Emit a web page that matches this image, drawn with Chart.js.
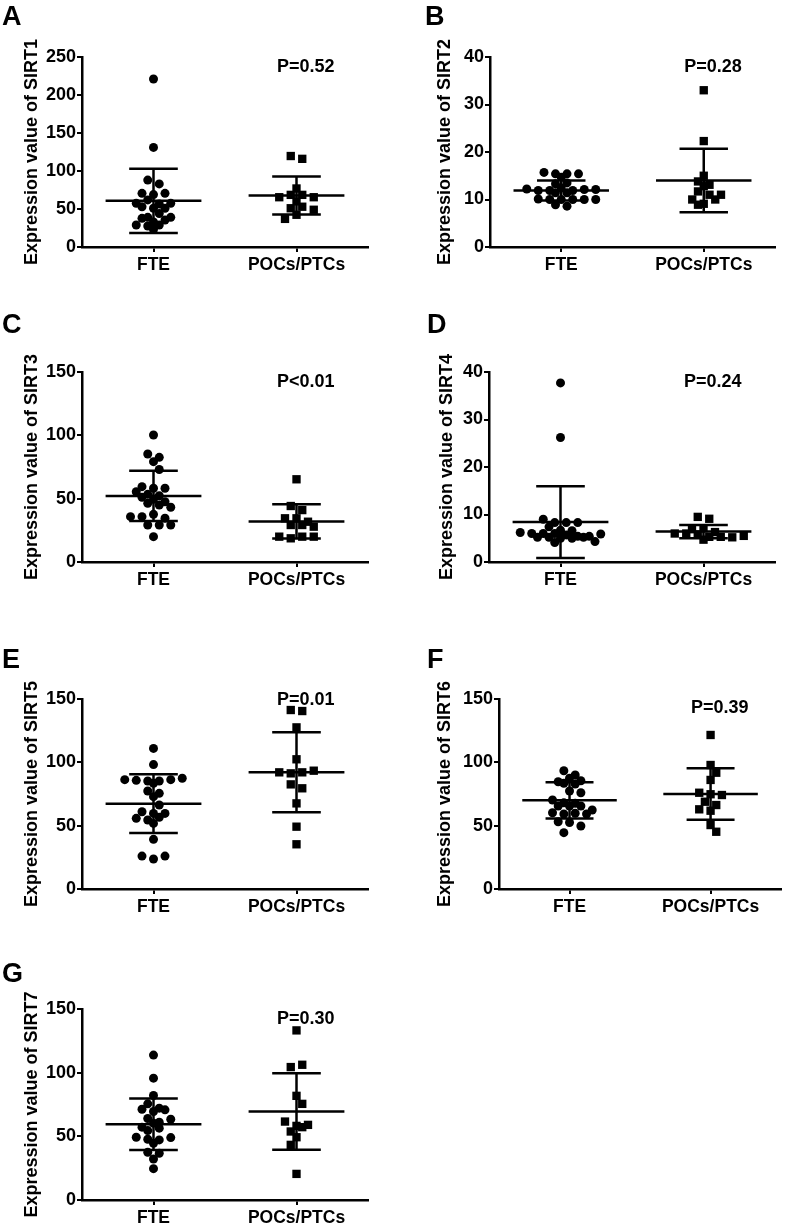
<!DOCTYPE html>
<html>
<head>
<meta charset="utf-8">
<script src="https://cdn.jsdelivr.net/npm/chart.js@4/dist/chart.umd.min.js"></script>
<style>
  body { margin: 0; background: #fff; }
  #wrap { position: relative; width: 787px; height: 1225px; }
  canvas { position: absolute; }
</style>
</head>
<body>
<div id="wrap"></div>
<script>
// groups on the x axis
const groups = ['FTE', 'POCs/PTCs'];

// values
const sirt1FTE = [221, 131, 88, 83, 70.6, 69, 70.6, 57.5, 53, 51, 62, 51, 56.6, 57.5, 37.7, 33, 29, 39, 44, 39, 27.6, 29, 35.5, 23];
const sirt1POC = [119.7, 116, 77, 65.5, 60, 68.6, 68.6, 65.5, 51, 53, 37, 42.4, 49];
const sirt2FTE = [15.7, 15.4, 14.7, 15.4, 15.4, 13.3, 13.5, 12.2, 11.9, 11.9, 12.4, 11.9, 12.1, 12.1, 11.4, 11.4, 10.1, 10, 10, 10, 10, 10, 8.9, 8.6];
const sirt2POC = [33, 22.3, 13.8, 12.8, 15, 13.1, 11.7, 11, 10, 8.9, 9.1, 10, 11];
const sirt3FTE = [100.3, 85.3, 82.6, 79.2, 73, 59.5, 58.2, 55.5, 58.2, 53.4, 52.3, 51.1, 49.5, 47.6, 46.3, 45, 43.2, 35.8, 35.8, 37.6, 34.5, 29.2, 29.2, 29.2, 20];
const sirt3POC = [65.3, 44.2, 41, 34.5, 34.5, 31.8, 29.2, 29.2, 27.9, 20, 18.7, 20, 20];
const sirt4FTE = [37.7, 26.2, 9.0, 8.3, 8.3, 8.3, 7.4, 6.7, 6.6, 6.2, 6.0, 6.0, 6.0, 5.7, 5.4, 5.2, 5.2, 5.0, 5.0, 5.4, 5.2, 4.3, 4.1, 5.9];
const sirt4POC = [9.5, 9.1, 6.0, 6.9, 7.1, 6.0, 5.8, 5.3, 5.3, 4.7, 5.2, 6.3, 5.5];
const sirt5FTE = [111, 98.2, 86.3, 85.8, 85.3, 83.4, 85.3, 86.3, 87.4, 77.4, 72.9, 75.5, 66.3, 61, 59.7, 55.8, 51.8, 54.5, 56.6, 59.7, 39.2, 26, 23.7, 26];
const sirt5POC = [141.3, 140.5, 127.6, 102.4, 92.1, 91.3, 92.1, 93.4, 82.6, 79.5, 67.6, 49.2, 35.3];
const sirt6FTE = [93.4, 84.7, 83.4, 87.4, 90, 82.9, 85.5, 77.4, 76, 70.3, 68, 67.7, 65.5, 65.5, 65.5, 62.4, 60.2, 59.2, 59.8, 59.2, 53.1, 52.5, 49.7, 44.5];
const sirt6POC = [121.6, 97.9, 91.8, 86.1, 76, 74.8, 74.2, 68.9, 62.9, 66.3, 61.8, 50.5, 45.2];
const sirt7FTE = [113.8, 95.7, 82.1, 75.5, 71.3, 69.5, 70.8, 72.1, 64, 57.2, 61.1, 63.4, 54.5, 49.3, 47.7, 47.2, 44.6, 49, 37.5, 36.7, 32.2, 24.6, 60.3, 56.4];
const sirt7POC = [133.2, 104.4, 106.2, 81.8, 75.5, 61.6, 58.2, 53.8, 57.2, 59, 49.3, 43.3, 20.5];

// mean and SD bars as drawn (FTE, POCs/PTCs)
const means = [[60.7, 67.7], [11.9, 14.0], [52.2, 32.0], [8.4, 6.4], [67.4, 92.1], [70.0, 75.0], [59.5, 69.5]];
const sds = [[42.2, 25.1], [2.1, 6.7], [19.8, 13.5], [7.55, 1.4], [23.2, 31.6], [14.3, 20.4], [20.3, 30.1]];

// tick labels
const ticks250 = [0, 50, 100, 150, 200, 250];
const ticks40 = [0, 10, 20, 30, 40];
const ticks150 = [0, 50, 100, 150];

const yTitles = ['Expression value of SIRT1', 'Expression value of SIRT2', 'Expression value of SIRT3',
  'Expression value of SIRT4', 'Expression value of SIRT5', 'Expression value of SIRT6', 'Expression value of SIRT7'];
const letters = ['A', 'B', 'C', 'D', 'E', 'F', 'G'];
const pValues = ['P=0.52', 'P=0.28', 'P<0.01', 'P=0.24', 'P=0.01', 'P=0.39', 'P=0.30'];

const FONT = "'Liberation Sans', Arial, sans-serif";
Chart.defaults.font.family = FONT;
Chart.defaults.color = '#000';

// canvas box, plot area inside it, and text placement
const panels = [
  { fte: sirt1FTE, poc: sirt1POC, ticks: ticks250, box: [0, 0, 390, 295], area: [82, 57, 368, 247], titlePad: 21, letter: [2, 25], pOff: 10 },
  { fte: sirt2FTE, poc: sirt2POC, ticks: ticks40, box: [390, 0, 397, 295], area: [100, 57, 385, 247], titlePad: 44, letter: [35, 25], pOff: 10 },
  { fte: sirt3FTE, poc: sirt3POC, ticks: ticks150, box: [0, 300, 390, 300], area: [82, 72, 368, 262], titlePad: 21, letter: [2, 33], pOff: 10 },
  { fte: sirt4FTE, poc: sirt4POC, ticks: ticks40, box: [390, 300, 397, 300], area: [99, 72, 385, 262], titlePad: 46, letter: [37, 33], pOff: 10 },
  { fte: sirt5FTE, poc: sirt5POC, ticks: ticks150, box: [0, 600, 390, 325], area: [82, 99, 368, 289], titlePad: 21, letter: [2, 68], pOff: 1 },
  { fte: sirt6FTE, poc: sirt6POC, ticks: ticks150, box: [390, 600, 397, 325], area: [109, 99, 395, 289], titlePad: 44, letter: [37, 68], pOff: 9 },
  { fte: sirt7FTE, poc: sirt7POC, ticks: ticks150, box: [0, 910, 390, 315], area: [82, 99, 368, 290], titlePad: 21, letter: [2, 72], pOff: 10 }
];

const ROW = 4.5;  // dots closer than this (px, vertically) share a row
const DOT = 9;    // dot size, px
const GAP = 11.5; // horizontal spacing of dots in a row, px

// column scatter like Prism: group close values into rows, centre each row,
// and shift a row by half a step when it would sit on top of the row above
function columnScatter(values, center, yMax, plotW, plotH) {
  const ky = plotH / yMax, kx = plotW / 2;
  const idx = values.map((v, i) => i).sort((a, b) => values[b] - values[a]);
  const rows = [];
  idx.forEach(i => {
    const row = rows[rows.length - 1];
    if (row && (values[row[0]] - values[i]) * ky < ROW) row.push(i);
    else rows.push([i]);
  });
  const pts = [];
  let prev = null, prevShift = 0, flip = 1;
  rows.forEach(row => {
    let shift = 0;
    if (prev) {
      const gapPx = (values[prev[prev.length - 1]] - values[row[0]]) * ky;
      const prevOdd = (prev.length % 2 === 1) === (prevShift === 0);
      const thisOdd = row.length % 2 === 1;
      if (gapPx < DOT && prevOdd === thisOdd) {
        shift = flip * GAP / 2;
        flip = -flip;
      }
    }
    row.sort((a, b) => a - b).forEach((i, j) => {
      const off = (j - (row.length - 1) / 2) * GAP + shift;
      pts.push({ x: center + off / kx, y: values[i] });
    });
    prev = row;
    prevShift = shift;
  });
  return pts;
}

function seg(x1, y1, x2, y2) {
  return {
    type: 'line',
    data: [{ x: x1, y: y1 }, { x: x2, y: y2 }],
    borderColor: '#000',
    borderWidth: 2.5,
    pointRadius: 0,
    fill: false
  };
}

const panelText = {
  id: 'panelText',
  afterDraw(chart, args, opts) {
    const { ctx, chartArea, scales } = chart;
    ctx.save();
    ctx.fillStyle = '#000';
    ctx.font = 'bold 27px ' + FONT;
    ctx.textAlign = 'left';
    ctx.textBaseline = 'alphabetic';
    ctx.fillText(opts.letter, opts.lx, opts.ly);
    ctx.font = 'bold 18px ' + FONT;
    ctx.textAlign = 'center';
    ctx.textBaseline = 'middle';
    ctx.fillText(opts.p, scales.x.getPixelForValue(2.065), chartArea.top + opts.pOff);
    ctx.restore();
  }
};

const wrap = document.getElementById('wrap');

panels.forEach((p, i) => {
  const [bx, by, bw, bh] = p.box;
  const [al, at, ar, ab] = p.area;
  const canvas = document.createElement('canvas');
  canvas.width = bw;
  canvas.height = bh;
  canvas.style.left = bx + 'px';
  canvas.style.top = by + 'px';
  wrap.appendChild(canvas);

  const yMax = p.ticks[p.ticks.length - 1];
  const datasets = [];
  [p.fte, p.poc].forEach((vals, g) => {
    const c = g + 1;
    datasets.push({
      type: 'scatter',
      data: columnScatter(vals, c, yMax, ar - al, ab - at),
      pointStyle: g ? 'rect' : 'circle',
      pointRadius: g ? 5.9 : 4.5,
      backgroundColor: '#000',
      borderWidth: 0
    });
    const m = means[i][g], s = sds[i][g];
    datasets.push(seg(c - 0.335, m, c + 0.335, m));
    datasets.push(seg(c - 0.17, m + s, c + 0.17, m + s));
    datasets.push(seg(c - 0.17, m - s, c + 0.17, m - s));
    datasets.push(seg(c, m - s, c, m + s));
  });

  new Chart(canvas, {
    type: 'scatter',
    data: { datasets },
    options: {
      responsive: false,
      animation: false,
      events: [],
      layout: { padding: { top: at, right: bw - ar, left: 0, bottom: 0 } },
      plugins: {
        legend: { display: false },
        tooltip: { enabled: false },
        panelText: { letter: letters[i], lx: p.letter[0], ly: p.letter[1], p: pValues[i], pOff: p.pOff }
      },
      scales: {
        x: {
          type: 'linear',
          min: 0.5,
          max: 2.5,
          afterBuildTicks: s => { s.ticks = [{ value: 1 }, { value: 2 }]; },
          afterFit: s => { s.height = bh - ab; },
          ticks: {
            callback: v => groups[v - 1],
            font: { size: 17.5, weight: 'bold' },
            color: '#000',
            padding: 3,
            maxRotation: 0,
            autoSkip: false
          },
          grid: { drawOnChartArea: false, color: '#000', lineWidth: 2, tickLength: 5 },
          border: { color: '#000', width: 2.5 }
        },
        y: {
          min: 0,
          max: yMax,
          afterBuildTicks: s => { s.ticks = p.ticks.map(v => ({ value: v })); },
          afterFit: s => { s.width = al; },
          ticks: { font: { size: 18, weight: 'bold' }, color: '#000', padding: 1 },
          grid: { drawOnChartArea: false, color: '#000', lineWidth: 2, tickLength: 5 },
          border: { color: '#000', width: 2.5 },
          title: {
            display: true,
            text: yTitles[i],
            font: { size: 18, weight: 'bold' },
            color: '#000',
            padding: { top: p.titlePad, bottom: 0 }
          }
        }
      }
    },
    plugins: [panelText]
  });
});
</script>
</body>
</html>
